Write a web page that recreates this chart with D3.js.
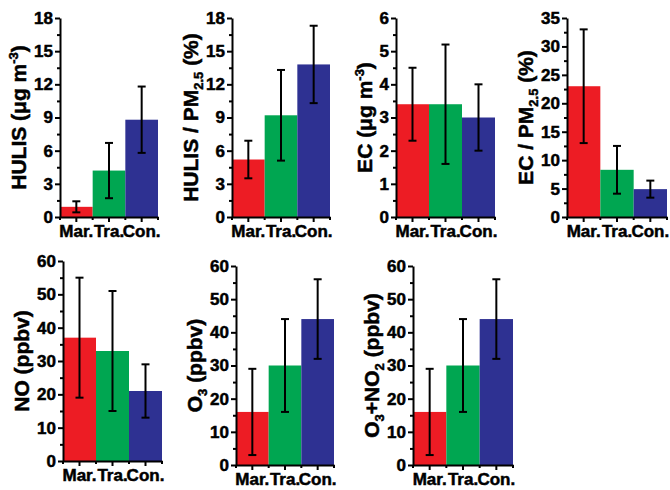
<!DOCTYPE html>
<html>
<head>
<meta charset="utf-8">
<script src="https://cdn.jsdelivr.net/npm/d3@7"></script>
<style>
  body { margin: 0; background: #fff; }
  text { font-family: "Liberation Sans", Arial, sans-serif; font-weight: bold; }
</style>
</head>
<body>
<script>
// Data
var categories = ['Mar.', 'Tra.', 'Con.'];
var colors = ['#ED1C24', '#00A651', '#2E3192'];

var hulis = [0.92, 4.2, 8.8];
var hulisErr = [0.5, 2.5, 3.0];
var hulisPm = [5.2, 9.2, 13.8];
var hulisPmErr = [1.7, 4.1, 3.5];
var ec = [3.4, 3.4, 3.0];
var ecErr = [1.1, 1.8, 1.0];
var ecPm = [23.0, 8.3, 4.9];
var ecPmErr = [10.0, 4.2, 1.5];
var no = [37, 33, 21];
var noErr = [18, 18, 8];
var o3 = [16, 30, 44];
var o3Err = [13, 14, 12];
var ox = [16, 30, 44];
var oxErr = [13, 14, 12];

// y ticks per panel
var yTicks18 = [0, 3, 6, 9, 12, 15, 18];
var yTicks6 = [0, 1, 2, 3, 4, 5, 6];
var yTicks35 = [0, 5, 10, 15, 20, 25, 30, 35];
var yTicks60 = [0, 10, 20, 30, 40, 50, 60];

// Layout
var WIDTH = 670;
var HEIGHT = 490;
var TICK_MAJOR = 5;
var TICK_MINOR = 3;
var FONT = '"Liberation Sans", Arial, sans-serif';

var panels = [
  { x0: 60, x1: 158, top: 18, bottom: 217, values: hulis, errs: hulisErr, ticks: yTicks18,
    title: [['HULIS (\u03bcg m'], ['-3', 'sup'], [')']] },
  { x0: 232, x1: 330, top: 18, bottom: 217, values: hulisPm, errs: hulisPmErr, ticks: yTicks18,
    title: [['HULIS / PM'], ['2.5', 'sub'], [' (%)']] },
  { x0: 396, x1: 495, top: 18, bottom: 217, values: ec, errs: ecErr, ticks: yTicks6,
    title: [['EC (\u03bcg m'], ['-3', 'sup'], [')']] },
  { x0: 567, x1: 667, top: 18, bottom: 217, values: ecPm, errs: ecPmErr, ticks: yTicks35,
    title: [['EC / PM'], ['2.5', 'sub'], [' (%)']] },
  { x0: 63, x1: 162, top: 261, bottom: 461, values: no, errs: noErr, ticks: yTicks60,
    title: [['NO (ppbv)']] },
  { x0: 236, x1: 334, top: 266, bottom: 465, values: o3, errs: o3Err, ticks: yTicks60,
    title: [['O'], ['3', 'sub'], [' (ppbv)']] },
  { x0: 413, x1: 513, top: 266, bottom: 465, values: ox, errs: oxErr, ticks: yTicks60,
    title: [['O'], ['3', 'sub'], ['+NO'], ['2', 'sub'], [' (ppbv)']] }
];

var svg = d3.select('body').append('svg')
  .attr('width', WIDTH)
  .attr('height', HEIGHT);

function styleText(size) {
  return function (sel) {
    sel.attr('font-size', size)
      .attr('fill', '#000')
      .attr('stroke', '#000')
      .attr('stroke-width', 0.5)
      .style('font-family', FONT)
      .style('font-weight', 'bold');
  };
}

panels.forEach(function (p) {
  var g = svg.append('g');

  var x = d3.scaleBand()
    .domain(categories)
    .range([p.x0, p.x1])
    .padding(0);

  var yMax = p.ticks[p.ticks.length - 1];
  var y = d3.scaleLinear()
    .domain([0, yMax])
    .range([p.bottom, p.top]);

  // bars
  g.selectAll('rect.bar')
    .data(p.values)
    .enter().append('rect')
    .attr('class', 'bar')
    .attr('x', function (d, i) { return x(categories[i]); })
    .attr('width', x.bandwidth())
    .attr('y', function (d) { return y(d); })
    .attr('height', function (d) { return y(0) - y(d); })
    .attr('fill', function (d, i) { return colors[i]; });

  // error bars
  var err = g.selectAll('g.err')
    .data(p.values)
    .enter().append('g')
    .attr('class', 'err')
    .attr('stroke', '#000')
    .attr('stroke-width', 2);

  err.append('line')
    .attr('x1', function (d, i) { return x(categories[i]) + x.bandwidth() / 2; })
    .attr('x2', function (d, i) { return x(categories[i]) + x.bandwidth() / 2; })
    .attr('y1', function (d, i) { return y(d + p.errs[i]); })
    .attr('y2', function (d, i) { return y(d - p.errs[i]); });

  [1, -1].forEach(function (sign) {
    err.append('line')
      .attr('x1', function (d, i) { return x(categories[i]) + x.bandwidth() / 2 - 4; })
      .attr('x2', function (d, i) { return x(categories[i]) + x.bandwidth() / 2 + 4; })
      .attr('y1', function (d, i) { return y(d + sign * p.errs[i]); })
      .attr('y2', function (d, i) { return y(d + sign * p.errs[i]); });
  });

  // y axis
  var minorY = [];
  for (var k = 0; k < p.ticks.length - 1; k++) {
    minorY.push((p.ticks[k] + p.ticks[k + 1]) / 2);
  }

  g.append('g')
    .attr('transform', 'translate(' + p.x0 + ',0)')
    .call(d3.axisLeft(y).tickValues(minorY).tickSize(TICK_MINOR).tickFormat(''))
    .call(function (a) { a.select('.domain').remove(); })
    .selectAll('line').attr('stroke-width', 2);

  var yAxis = g.append('g')
    .attr('transform', 'translate(' + p.x0 + ',0)')
    .call(d3.axisLeft(y).tickValues(p.ticks).tickFormat(d3.format('d'))
      .tickSize(TICK_MAJOR).tickSizeOuter(0).tickPadding(2));
  yAxis.select('.domain').attr('stroke-width', 2);
  yAxis.selectAll('line').attr('stroke-width', 2);
  yAxis.selectAll('text').call(styleText(17));

  // x axis
  var xAxis = g.append('g')
    .attr('transform', 'translate(0,' + p.bottom + ')')
    .call(d3.axisBottom(x).tickSize(TICK_MAJOR).tickSizeOuter(0).tickPadding(3));
  xAxis.select('.domain').attr('stroke-width', 2);
  xAxis.selectAll('line').attr('stroke-width', 2);
  xAxis.selectAll('text').call(styleText(17));

  var bounds = categories.map(function (c) { return x(c); }).concat([p.x1]);
  g.append('g').selectAll('line')
    .data(bounds)
    .enter().append('line')
    .attr('x1', function (d) { return d; })
    .attr('x2', function (d) { return d; })
    .attr('y1', p.bottom)
    .attr('y2', p.bottom + TICK_MINOR)
    .attr('stroke', '#000')
    .attr('stroke-width', 2);

  // title, rotated, left of the tick labels
  var left = d3.min(yAxis.selectAll('text').nodes(), function (n) { return n.getBBox().x; });
  var tx = p.x0 + left - 8;
  var ty = (p.top + p.bottom) / 2;
  var title = g.append('text')
    .attr('transform', 'translate(' + tx + ',' + ty + ') rotate(-90)')
    .attr('text-anchor', 'middle')
    .attr('font-size', 21)
    .attr('fill', '#000')
    .attr('stroke', '#000')
    .attr('stroke-width', 0.5);

  var shift = 0;
  p.title.forEach(function (part) {
    var t = title.append('tspan').text(part[0]);
    var want = part[1] === 'sup' ? -8 : (part[1] === 'sub' ? 5 : 0);
    if (part[1]) t.attr('font-size', 13);
    if (want !== shift) t.attr('dy', want - shift);
    shift = want;
  });
});
</script>
</body>
</html>
